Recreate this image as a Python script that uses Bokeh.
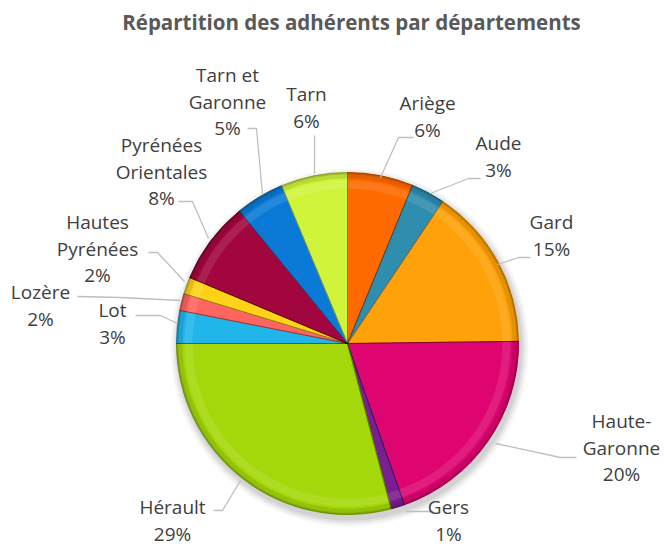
import math
from bokeh.plotting import figure
from bokeh.models import Range1d, ColumnDataSource
from bokeh.core.properties import value
from bokeh.embed import file_html
from bokeh.resources import INLINE

# ---- data ----
categories = ["Ariège", "Aude", "Gard", "Haute-\nGaronne", "Gers", "Hérault",
              "Lot", "Lozère", "Hautes\nPyrénées", "Pyrénées\nOrientales",
              "Tarn et\nGaronne", "Tarn"]
shares = [6.2, 3.2, 15.4, 19.8, 1.3, 29.1, 3.1, 1.6, 1.6, 7.8, 4.6, 6.3]
colors = ["#FF6A00", "#2F8DAE", "#FFA20A", "#DE0570", "#7A1E91", "#A5D80A",
          "#20B6EA", "#FF6560", "#FFD21A", "#A2063E", "#0B7AD6", "#D0F43A"]
title_text = "Répartition des adhérents par départements"

# ---- layout (pixel coordinates, y downward) ----
W, H = 665, 547
CX, CY, R = 347, 343, 171
LINE = 26.5
label_pos = [(427, 116), (498, 156), (551, 235), (621, 447), (448, 520),
             (172, 520), (112, 323), (40, 305), (97, 248), (161, 171),
             (227, 101), (306, 107)]
leaders = [
    [(413, 137), (398, 137), (380, 177)],
    [(480, 178), (468, 178), (430, 193)],
    [(530, 257), (518, 257), (497, 264)],
    [(576, 457), (560, 457), (495, 443)],
    [(433, 511), (422, 511), (405, 511)],
    [(213, 510), (222, 510), (240, 480)],
    [(135, 315), (160, 315), (177, 323)],
    [(77, 296), (120, 297), (180, 300)],
    [(148, 252), (157, 252), (184, 281)],
    [(178, 201), (192, 201), (208, 238)],
    [(247, 128), (256, 128), (262, 194)],
    [(314, 135), (314, 150), (314, 173)],
]

def Y(y):
    return H - y

p = figure(width=W, height=H, output_backend="svg", toolbar_location=None,
           x_range=Range1d(0, W), y_range=Range1d(0, H),
           min_border=0, background_fill_color="white", border_fill_color="white")
p.axis.visible = False
p.grid.visible = False
p.outline_line_color = None

total = sum(shares)
starts, ends = [], []
cum = 0.0
for s in shares:
    c0 = cum / total
    cum += s
    c1 = cum / total
    starts.append(math.pi / 2 - 2 * math.pi * c1)
    ends.append(math.pi / 2 - 2 * math.pi * c0)

# soft shadow
for k, a in [(8, 0.03), (6, 0.04), (4, 0.05), (2, 0.06)]:
    p.circle(x=CX + 2, y=Y(CY + 4), radius=R + k, fill_color="black",
             fill_alpha=a, line_color=None)

src = ColumnDataSource(dict(start=starts, end=ends, color=colors))
p.wedge(x=CX, y=Y(CY), radius=R, start_angle="start", end_angle="end",
        fill_color="color", line_color="color", line_width=1, source=src)

# bevel: inner highlight and darker rim
p.annular_wedge(x=CX, y=Y(CY), inner_radius=R - 16, outer_radius=R - 8,
                start_angle="start", end_angle="end", fill_color="white",
                fill_alpha=0.10, line_color=None, source=src)
p.annular_wedge(x=CX, y=Y(CY), inner_radius=R - 6, outer_radius=R - 2,
                start_angle="start", end_angle="end", fill_color="black",
                fill_alpha=0.10, line_color=None, source=src)
p.annular_wedge(x=CX, y=Y(CY), inner_radius=R - 2, outer_radius=R,
                start_angle="start", end_angle="end", fill_color="black",
                fill_alpha=0.22, line_color=None, source=src)
p.wedge(x=CX, y=Y(CY), radius=R, start_angle="start", end_angle="end",
        fill_color=None, line_color="black", line_alpha=0.25, line_width=1,
        source=src)

# leader lines
p.multi_line(xs=[[pt[0] for pt in l] for l in leaders],
             ys=[[Y(pt[1]) for pt in l] for l in leaders],
             line_color="#BFBFBF", line_width=1.3)

# labels, one text per line
lx, ly, lt = [], [], []
for (x0, y0), c, s in zip(label_pos, categories, shares):
    lines = c.split("\n") + [f"{round(s / total * 100)}%"]
    n = len(lines)
    for i, t in enumerate(lines):
        lx.append(x0)
        ly.append(Y(y0 + (i - (n - 1) / 2) * LINE))
        lt.append(t)
p.text(x=lx, y=ly, text=lt, text_align="center", text_baseline="middle",
       text_font=value("Open Sans"), text_font_size="19px",
       text_color="#404040")

p.text(x=[351], y=[Y(21)], text=[title_text], text_align="center",
       text_baseline="middle", text_font=value("Open Sans"),
       text_font_size="20.5px", text_font_style="bold", text_color="#595959")

open("out.html", "w").write(file_html(p, INLINE))
